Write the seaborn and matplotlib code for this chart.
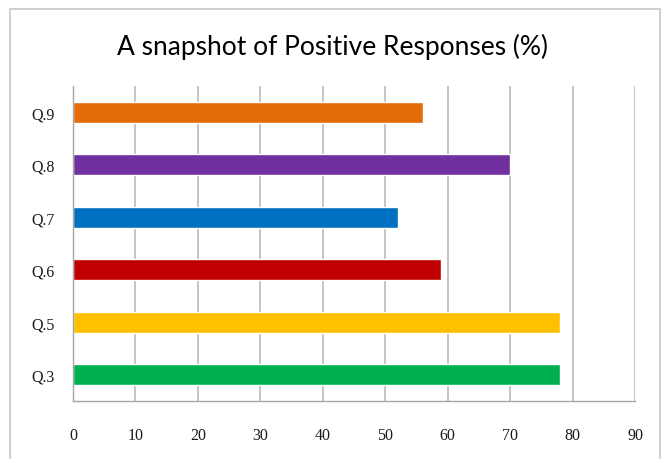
import matplotlib
matplotlib.use("Agg")
import matplotlib.pyplot as plt
import seaborn as sns
from matplotlib.patches import Rectangle

# data
questions = ["Q.9", "Q.8", "Q.7", "Q.6", "Q.5", "Q.3"]
positive_pct = [56, 70, 52, 59, 78, 78]
bar_colors = ["#E36C09", "#7030A0", "#0070C0", "#C00000", "#FFC000", "#00B050"]

sns.set_style("white")
plt.rcParams["font.family"] = ["Lato", "DejaVu Sans"]

fig = plt.figure(figsize=(6.61, 4.60), dpi=100)
ax = fig.add_axes([0.1104, 0.1261, 0.8503, 0.6848])

sns.barplot(x=positive_pct, y=questions, hue=questions, palette=bar_colors,
            legend=False, width=0.4, orient="h", saturation=1, ax=ax)

ax.set_xlim(0, 90)
ax.set_ylim(5.5, -0.5)
ax.set_xticks(range(0, 91, 10))
ax.set_xlabel("")
ax.set_ylabel("")

# grid lines behind bars
ax.set_axisbelow(True)
ax.xaxis.grid(True, color="#BFBFBF", linewidth=1.3)
ax.yaxis.grid(False)

for side in ["top", "right"]:
    ax.spines[side].set_visible(False)
for side in ["left", "bottom"]:
    ax.spines[side].set_color("#A6A6A6")
    ax.spines[side].set_linewidth(1.0)
ax.spines["bottom"].set_bounds(0, 90)

# ticks between categories on the y axis
ax.set_yticks([i + 0.5 for i in range(-1, 6)], minor=True)
ax.tick_params(axis="y", which="major", length=0, pad=13)
ax.tick_params(axis="y", which="minor", length=5, color="#A6A6A6", direction="out")
ax.tick_params(axis="x", length=5, color="#A6A6A6", direction="out", pad=14)

for lbl in ax.get_yticklabels() + ax.get_xticklabels():
    lbl.set_fontfamily(["Liberation Serif", "DejaVu Serif"])
    lbl.set_fontsize(11.5)
    lbl.set_color("#1A1A1A")

fig.text(0.503, 0.897, "A snapshot of Positive Responses (%)",
         ha="center", va="center", fontsize=19, color="#000000")

# outer chart border
fig.patches.append(Rectangle((10 / 661, -0.1), 650 / 661, 1.1 - 10 / 460,
                             transform=fig.transFigure, fill=False,
                             edgecolor="#C8C8C8", linewidth=1.2))

fig.savefig("out.png", dpi=100)
